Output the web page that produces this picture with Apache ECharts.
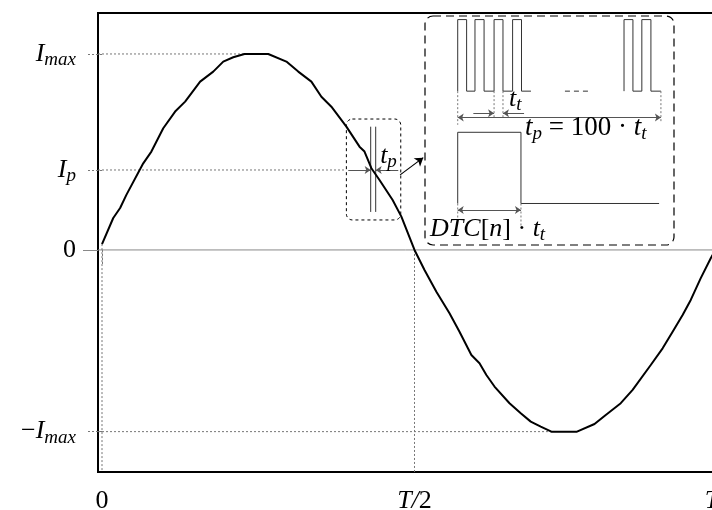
<!DOCTYPE html>
<html>
<head>
<meta charset="utf-8">
<script src="https://cdn.jsdelivr.net/npm/echarts@6/dist/echarts.min.js"></script>
<style>
  html, body { margin: 0; padding: 0; background: #fff; }
  #chart { width: 712px; height: 510px; }
</style>
</head>
<body>
<div id="chart"></div>
<script>
// Phase current over one period: time in units of T, current in units of I_max
const currentT = [0, 0.018, 0.029, 0.039, 0.066, 0.079, 0.098, 0.117, 0.133, 0.157, 0.178, 0.194, 0.210, 0.228,
  0.266, 0.295, 0.314, 0.335, 0.351, 0.367, 0.385, 0.391, 0.412, 0.420, 0.431, 0.444, 0.465, 0.479, 0.5,
  0.516, 0.535, 0.556, 0.572, 0.591, 0.604, 0.615, 0.628, 0.652, 0.670, 0.686, 0.702, 0.719, 0.760,
  0.788, 0.806, 0.830, 0.849, 0.878, 0.897, 0.913, 0.929, 0.942, 0.958, 0.974, 1.0];
const currentI = [0.03, 0.163, 0.214, 0.281, 0.442, 0.502, 0.621, 0.706, 0.757, 0.859, 0.910, 0.961, 0.983, 1.0,
  1.0, 0.961, 0.910, 0.859, 0.782, 0.731, 0.655, 0.629, 0.527, 0.502, 0.417, 0.357, 0.255, 0.170, 0,
  -0.102, -0.213, -0.323, -0.417, -0.536, -0.578, -0.638, -0.697, -0.782, -0.833, -0.876, -0.901, -0.927, -0.927,
  -0.888, -0.842, -0.782, -0.714, -0.587, -0.502, -0.417, -0.332, -0.255, -0.144, -0.042, 0.1];

// Current levels on the vertical axis
const levelValues = [1, 0.408, 0, -0.927];
const levelLabels = ['{i|I}{s|max}', '{i|I}{s|p}', '{r|0}', '{r|\u2212}{i|I}{s|max}'];
// Time ticks
const timeValues = [0, 0.5, 1];
const timeLabels = ['{r|0}', '{i|T/}{r|2}', '{e|T}'];

// Detail panel: PWM pulse train, edges in units of t_t (rise, fall, rise, ...)
const burstA = [0, 0.49, 0.95, 1.45, 2.0, 2.49, 3.02, 3.51];
const burstAEnd = 4.03;
const burstB = [9.15, 9.64, 10.13, 10.63];
const burstBEnd = 11.18;
const gapDash = [5.9, 7.17];
// Duty-cycle pulse: rise, fall, end of period
const dtcEdges = [0, 3.48];
const dtcEnd = 11.08;
const dtcLevels = [-1.57, -0.575];

const XMIN = -0.0064, XMAX = 1.04, YMIN = -1.133, YMAX = 1.209;
const PX = [-1.8, 11.9], PY = [-2.15, 1.05];

const FONT = "'Liberation Serif', 'DejaVu Serif', serif";
function mathRich(size) {
  const lh = Math.round(size * 1.3);
  return {
    i: { fontFamily: FONT, fontStyle: 'italic', fontSize: size, lineHeight: lh, color: '#000' },
    e: { fontFamily: FONT, fontStyle: 'italic', fontSize: size, lineHeight: lh, color: '#000',
         padding: [0, 30, 0, 0] },
    r: { fontFamily: FONT, fontSize: size, lineHeight: lh, color: '#000' },
    s: { fontFamily: FONT, fontStyle: 'italic', fontSize: Math.round(size * 0.72), lineHeight: lh,
         padding: [Math.round(size * 0.45), 0, 0, 0], color: '#000' }
  };
}

function steps(edges, end, lo, hi) {
  const pts = [[edges[0], lo]];
  let level = lo;
  edges.forEach(e => {
    pts.push([e, level]);
    level = level === lo ? hi : lo;
    pts.push([e, level]);
  });
  pts.push([end, level]);
  return pts;
}

function seg(name, pts, style, axes, extra) {
  return Object.assign({
    name, type: 'line', data: pts, symbol: 'none', showSymbol: false, silent: true,
    xAxisIndex: axes[0], yAxisIndex: axes[1],
    lineStyle: style, emphasis: { disabled: true }, z: 2
  }, extra || {});
}

const grayDot = { color: '#777', width: 1, type: [2, 2] };
const thin = { color: '#333', width: 1 };
const arrowStyle = { color: '#555', width: 1, type: 'solid' };

function arrow(a, b, both) {
  return [{ coord: a, symbol: both ? 'arrow' : 'none' }, { coord: b, symbol: 'arrow' }];
}

const main = [0, 0], panel = [1, 2];

const option = {
  animation: false,
  grid: [
    { left: 98, top: 13, right: -40, bottom: 38, show: true, borderColor: '#000', borderWidth: 2,
      backgroundColor: 'transparent', containLabel: false, outerBoundsMode: 'none' },
    { left: 425, top: 16, width: 249, height: 229, show: false, containLabel: false, outerBoundsMode: 'none' }
  ],
  xAxis: [
    { gridIndex: 0, type: 'value', min: XMIN, max: XMAX, position: 'bottom',
      axisLine: { show: false }, splitLine: { show: false },
      axisTick: { show: true, customValues: [0, 0.5], length: 15, inside: false, lineStyle: grayDot },
      axisLabel: { show: true, customValues: timeValues, margin: 12, rich: mathRich(26),
        formatter: v => timeLabels[timeValues.indexOf(v)] || '' } },
    { gridIndex: 1, type: 'value', min: PX[0], max: PX[1], show: false }
  ],
  yAxis: [
    { gridIndex: 0, type: 'value', min: YMIN, max: YMAX, position: 'left',
      axisLine: { show: false }, splitLine: { show: false },
      axisTick: { show: true, customValues: [1, 0.408, -0.927], length: 15, lineStyle: grayDot },
      axisLabel: { show: true, customValues: levelValues, margin: 22, align: 'right', rich: mathRich(26),
        formatter: v => levelLabels[levelValues.indexOf(v)] || '' } },
    { gridIndex: 0, type: 'value', min: YMIN, max: YMAX, position: 'left',
      axisLine: { show: false }, splitLine: { show: false }, axisLabel: { show: false },
      axisTick: { show: true, customValues: [0], length: 15, lineStyle: { color: '#888', width: 1 } } },
    { gridIndex: 1, type: 'value', min: PY[0], max: PY[1], show: false }
  ],
  series: [
    // zero line and dotted reference levels
    seg('zero', [[XMIN, 0], [XMAX, 0]], { color: '#888', width: 1 }, main, { z: 1 }),
    seg('imax', [[XMIN, 1], [0.228, 1]], grayDot, main),
    seg('ip', [[XMIN, 0.408], [0.39, 0.408]], grayDot, main),
    seg('imin', [[XMIN, -0.927], [0.719, -0.927]], grayDot, main),
    seg('t0', [[0, 0.03], [0, YMIN]], grayDot, main),
    seg('thalf', [[0.5, 0], [0.5, YMIN]], grayDot, main),
    // pulse width markers around the current sample
    seg('tpA', [[0.4299, 0.629], [0.4299, 0.194]], thin, main),
    seg('tpB', [[0.4379, 0.629], [0.4379, 0.194]], thin, main),
    {
      name: 'current', type: 'line', xAxisIndex: 0, yAxisIndex: 0,
      data: currentT.map((t, k) => [t, currentI[k]]),
      symbol: 'none', showSymbol: false, silent: true, z: 5,
      lineStyle: { color: '#000', width: 2 }, emphasis: { disabled: true },
      markLine: {
        silent: true, symbolSize: 6, label: { show: false }, emphasis: { disabled: true },
        lineStyle: arrowStyle,
        data: [
          arrow([0.394, 0.408], [0.4299, 0.408]),
          arrow([0.474, 0.408], [0.4379, 0.408]),
          [{ coord: [0.477, 0.383], symbol: 'none', lineStyle: { color: '#000', width: 1.2 } },
           { coord: [0.514, 0.471], symbol: 'arrow', symbolSize: 8 }]
        ]
      }
    },
    // detail panel
    seg('burstA', steps(burstA, burstAEnd, 0, 1), thin, panel, {
      markLine: {
        silent: true, symbolSize: 6, label: { show: false }, emphasis: { disabled: true },
        lineStyle: arrowStyle,
        data: [
          arrow([0.86, -0.31], [2.0, -0.31]),
          arrow([3.65, -0.31], [2.49, -0.31]),
          arrow([0, -0.37], [burstBEnd, -0.37], true),
          arrow([dtcEdges[0], -1.66], [dtcEdges[1], -1.66], true)
        ]
      }
    }),
    seg('burstB', steps(burstB, burstBEnd, 0, 1), thin, panel),
    seg('gap', [[gapDash[0], 0], [gapDash[1], 0]], { color: '#333', width: 1, type: [5, 4] }, panel),
    seg('dtc', steps(dtcEdges, dtcEnd, dtcLevels[0], dtcLevels[1]), thin, panel),
    seg('d0', [[0, 0], [0, -0.47]], grayDot, panel),
    seg('d1', [[2.0, 0], [2.0, -0.36]], grayDot, panel),
    seg('d2', [[2.49, 0], [2.49, -0.36]], grayDot, panel),
    seg('d3', [[burstBEnd, 0], [burstBEnd, -0.45]], grayDot, panel),
    seg('d4', [[0, dtcLevels[0]], [0, -1.83]], grayDot, panel),
    seg('d5', [[dtcEdges[1], dtcLevels[0]], [dtcEdges[1], -1.88]], grayDot, panel)
  ]
};

const chart = echarts.init(document.getElementById('chart'));
chart.setOption(option);

const P0 = v => chart.convertToPixel({ gridIndex: 0 }, v);
const P1 = v => chart.convertToPixel({ gridIndex: 1 }, v);

function mathText(pt, text, size) {
  return { type: 'text', x: pt[0], y: pt[1], z: 20, silent: true,
    style: { text, rich: mathRich(size), align: 'left', verticalAlign: 'middle' } };
}

const b0 = P0([0.391, 0.668]), b1 = P0([0.478, 0.153]);
const p0 = P1([PX[0], PY[1]]), p1 = P1([PX[1], PY[0]]);
const tpLbl = P0([0.445, 0.434]);
const ttLbl = P1([2.82, -0.24]);
const eqLbl = P1([3.70, -0.64]);
const dtcLbl = P1([-1.52, -2.05]);

chart.setOption({
  graphic: [
    { type: 'rect', z: 10, silent: true,
      shape: { x: b0[0], y: b0[1], width: b1[0] - b0[0], height: b1[1] - b0[1], r: 6 },
      style: { fill: 'none', stroke: '#000', lineWidth: 1, lineDash: [3, 3] } },
    { type: 'rect', z: 10, silent: true,
      shape: { x: p0[0], y: p0[1], width: p1[0] - p0[0], height: p1[1] - p0[1], r: 8 },
      style: { fill: 'none', stroke: '#000', lineWidth: 1.2, lineDash: [8, 5] } },
    mathText([tpLbl[0], tpLbl[1] - 9], '{i|t}{s|p}', 26),
    mathText([ttLbl[0], ttLbl[1] - 9], '{i|t}{s|t}', 26),
    mathText([eqLbl[0], eqLbl[1] - 9], '{i|t}{s|p}{r| = 100 \u00b7 }{i|t}{s|t}', 27),
    mathText([dtcLbl[0], dtcLbl[1] - 9], '{i|DTC}{r|[}{i|n}{r|] \u00b7 }{i|t}{s|t}', 26)
  ]
});
</script>
</body>
</html>
